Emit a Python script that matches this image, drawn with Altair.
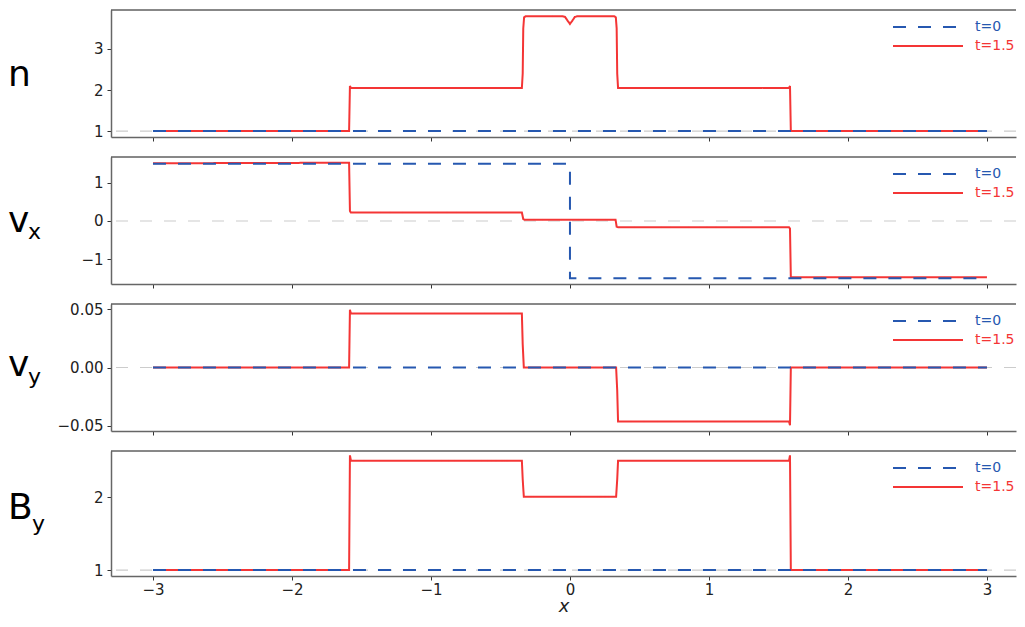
import altair as alt
import pandas as pd

# ---------------- data ----------------
series_names = ["t=0", "t=1.5"]
BLUE = "#2658b0"
RED = "#f43535"

# t = 0 (initial state)
n_x_t0 = [-3.0, 3.0]
n_t0 = [1.0, 1.0]
vx_x_t0 = [-3.0, 0.0, 0.0, 3.0]
vx_t0 = [1.5, 1.5, -1.5, -1.5]
vy_x_t0 = [-3.0, 3.0]
vy_t0 = [0.0, 0.0]
by_x_t0 = [-3.0, 3.0]
by_t0 = [1.0, 1.0]

# t = 1.5
n_x_t15 = [-3.0, -1.589, -1.583, -1.576, -1.565, -0.346, -0.340, -0.336, -0.330, -0.318,
           -0.055, -0.035, -0.015, 0.0, 0.015, 0.035, 0.055,
           0.318, 0.330, 0.336, 0.340, 0.346, 1.565, 1.576, 1.583, 1.589, 3.0]
n_t15 = [1.0, 1.0, 2.10, 2.05, 2.05, 2.05, 2.40, 3.50, 3.77, 3.80,
         3.80, 3.78, 3.68, 3.61, 3.68, 3.78, 3.80,
         3.80, 3.77, 3.50, 2.40, 2.05, 2.05, 2.05, 2.10, 1.0, 1.0]

vx_x_t15 = [-3.0, -1.589, -1.583, -1.576, -0.346, -0.336, -0.328, 0.328, 0.336, 0.346,
            1.576, 1.583, 1.589, 3.0]
vx_t15 = [1.51, 1.525, 0.26, 0.22, 0.22, 0.05, 0.035, 0.035, -0.15, -0.165,
          -0.165, -0.20, -1.47, -1.47]

vy_x_t15 = [-3.0, -1.589, -1.583, -1.576, -0.346, -0.340, -0.332, 0.332, 0.340, 0.346,
            1.576, 1.583, 1.589, 3.0]
vy_t15 = [0.0, 0.0, 0.0497, 0.0466, 0.0466, 0.02, 0.0, 0.0, -0.02, -0.0466,
          -0.0466, -0.0497, 0.0, 0.0]

by_x_t15 = [-3.0, -1.589, -1.583, -1.576, -0.346, -0.340, -0.332, 0.332, 0.340, 0.346,
            1.576, 1.583, 1.589, 3.0]
by_t15 = [1.0, 1.0, 2.58, 2.507, 2.507, 2.25, 2.01, 2.01, 2.25, 2.507,
          2.507, 2.58, 1.0, 1.0]

label_main = ["n", "v", "v", "B"]
label_sub = ["", "x", "y", "y"]
ref_values = [1.0, 0.0, 0.0, 1.0]
y_domains = [[0.855, 3.95], [-1.65, 1.675], [-0.0547, 0.0547], [0.918, 2.64]]
y_ticks = [[1, 2, 3], [-1, 0, 1], [-0.05, 0.0, 0.05], [1, 2]]
y_formats = ["d", "d", ".2f", "d"]
x_ticks = [-3, -2, -1, 0, 1, 2, 3]
x_domain = [-3.302, 3.209]
x_title = "x"

# ---------------- layout ----------------
W = 905
HEIGHTS = [127, 127, 127, 125]
FONT = "DejaVu Sans"
main_base = [76, 75, 72, 68]
sub_base = [0, 82, 80, 80]
sub_dx = [0, 20, 20, 24]

t0_x = [n_x_t0, vx_x_t0, vy_x_t0, by_x_t0]
t0_y = [n_t0, vx_t0, vy_t0, by_t0]
t15_x = [n_x_t15, vx_x_t15, vy_x_t15, by_x_t15]
t15_y = [n_t15, vx_t15, vy_t15, by_t15]


def make_panel(i):
    last = i == 3
    df0 = pd.DataFrame({"x": t0_x[i], "y": t0_y[i], "t": series_names[0],
                        "k": list(range(len(t0_x[i])))})
    df1 = pd.DataFrame({"x": t15_x[i], "y": t15_y[i], "t": series_names[1],
                        "k": list(range(len(t15_x[i])))})
    xscale = alt.Scale(domain=x_domain, nice=False, zero=False)
    yscale = alt.Scale(domain=y_domains[i], nice=False, zero=False)
    xaxis = alt.Axis(values=x_ticks, labels=last, title=x_title if last else None,
                     grid=False, tickSize=4, labelPadding=2, labelFontSize=15,
                     titleFontSize=18, titleFontStyle="italic", titleFontWeight="normal",
                     titlePadding=0, format="d")
    yaxis = alt.Axis(values=y_ticks[i], format=y_formats[i], title=None, grid=False,
                     tickSize=4, labelPadding=4, labelFontSize=15)
    leg = alt.Legend(orient="none", legendX=806, legendY=6, title=None,
                     symbolType="M-3.5,0H3.5", symbolSize=400, symbolStrokeWidth=2,
                     labelOffset=36, labelFontSize=14, labelFont=FONT, rowPadding=1,
                     labelColor=alt.ExprRef(
                         f"datum.label == '{series_names[0]}' ? '{BLUE}' : '{RED}'"))
    color = alt.Color("t:N", scale=alt.Scale(domain=series_names, range=[BLUE, RED]),
                      legend=leg)
    dash = alt.StrokeDash("t:N", scale=alt.Scale(domain=series_names,
                                                range=[[13, 12], [1, 0]]), legend=leg)

    refdf = pd.DataFrame({"r": [ref_values[i]], "m": [label_main[i]], "s": [label_sub[i]]})
    ref = alt.Chart(refdf).mark_rule(color="#cccccc", strokeDash=[12, 12],
                                     strokeWidth=1.2).encode(
        y=alt.Y("r:Q", scale=yscale, axis=yaxis))
    red = alt.Chart(df1).mark_line(strokeWidth=2).encode(
        x=alt.X("x:Q", scale=xscale, axis=xaxis),
        y=alt.Y("y:Q", scale=yscale, axis=yaxis),
        color=color, strokeDash=dash, order="k:Q")
    blue = alt.Chart(df0).mark_line(strokeWidth=2).encode(
        x=alt.X("x:Q", scale=xscale, axis=xaxis),
        y=alt.Y("y:Q", scale=yscale, axis=yaxis),
        color=color, strokeDash=dash, order="k:Q")
    top = alt.Chart(refdf).mark_rule(color="#111111", strokeWidth=1).encode(
        x=alt.value(0), x2=alt.value(W), y=alt.value(0))
    mtxt = alt.Chart(refdf).mark_text(align="left", baseline="alphabetic", font=FONT,
                                      fontSize=36, color="#000000").encode(
        text="m:N", x=alt.value(-103), y=alt.value(main_base[i]))
    layers = [ref, red, blue, top, mtxt]
    if label_sub[i]:
        stxt = alt.Chart(refdf).mark_text(align="left", baseline="alphabetic", font=FONT,
                                          fontSize=22, color="#000000").encode(
            text="s:N", x=alt.value(-103 + sub_dx[i]), y=alt.value(sub_base[i]))
        layers.append(stxt)
    return alt.layer(*layers).properties(width=W, height=HEIGHTS[i])


chart = alt.vconcat(*[make_panel(i) for i in range(4)], spacing=20, bounds="flush").resolve_legend(
    color="independent", strokeDash="independent"
).configure_view(stroke=None).configure_axis(
    domainColor="#666666", domainWidth=1.5, tickColor="#333333", labelColor="#222222",
    labelFont=FONT, titleFont=FONT, titleColor="#222222"
).properties(padding={"left": 0, "top": 1, "right": 0, "bottom": 0},
             background="white")

chart.save("out.html", embed_options={"renderer": "svg", "actions": False})
